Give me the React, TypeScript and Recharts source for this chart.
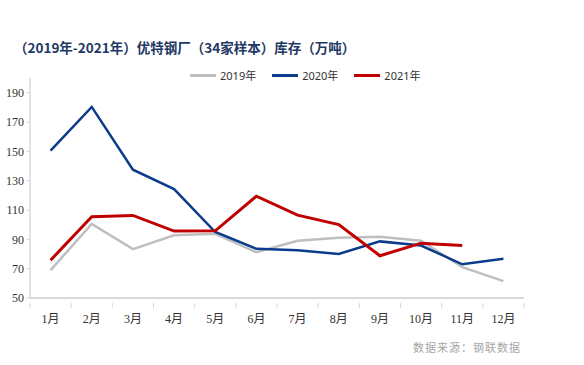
import { CartesianGrid, Legend, Line, LineChart, XAxis, YAxis } from 'recharts';

const months = ['1月', '2月', '3月', '4月', '5月', '6月', '7月', '8月', '9月', '10月', '11月', '12月'];
const inv2019 = [69, 100.5, 83.3, 92.8, 93.8, 81.2, 89, 91, 91.8, 89, 71, 61.5];
const inv2020 = [150.5, 180.3, 137.5, 124.3, 95, 83.5, 82.6, 80, 88.6, 85.8, 73, 76.7];
const inv2021 = [75.8, 105.4, 106.3, 95.6, 95.8, 119.4, 106.5, 100.1, 78.8, 87.4, 85.8, null];
const yTicks = [50, 70, 90, 110, 130, 150, 170, 190];

const chartData = months.map((m, i) => ({
  month: m,
  y2019: inv2019[i],
  y2020: inv2020[i],
  y2021: inv2021[i],
}));

const axisColor = '#d9d9d9';
const serif = '"Liberation Serif", "Noto Sans CJK SC", serif';

function MonthTick(props: any) {
  const { x, y, payload, index } = props;
  const half = payload?.offset ?? 494 / 24;
  return (
    <g>
      <line x1={x - half} y1={y - 3} x2={x - half} y2={y + 2} stroke={axisColor} />
      {index === months.length - 1 && (
        <line x1={x + half} y1={y - 3} x2={x + half} y2={y + 2} stroke={axisColor} />
      )}
      <text x={x} y={y + 17} textAnchor="middle" fontSize={12} fontFamily={serif} fill="#333">
        {payload.value}
      </text>
    </g>
  );
}

function LegendRow({ payload }: any) {
  return (
    <div style={{ display: 'flex', gap: 16, fontFamily: '"Noto Sans", "Noto Sans CJK SC", sans-serif', fontSize: 11, color: '#333' }}>
      {(payload || []).map((p: any) => (
        <div key={p.value} style={{ display: 'flex', alignItems: 'center' }}>
          <span style={{ display: 'inline-block', width: 26, height: 3, background: p.color, marginRight: 4 }} />
          <span>{p.value}</span>
        </div>
      ))}
    </div>
  );
}

export default function App() {
  return (
    <div style={{ position: 'absolute', left: 0, top: 0, width: 584, height: 365, background: '#fff' }}>
      <div
        style={{
          position: 'absolute',
          left: 14,
          top: 37,
          fontSize: 13.5,
          fontWeight: 'bold',
          color: '#1f3864',
          fontFamily: '"Noto Sans CJK SC", sans-serif',
          whiteSpace: 'nowrap',
        }}
      >
        （2019年-2021年）优特钢厂（34家样本）库存（万吨）
      </div>
      <LineChart width={584} height={365} data={chartData} margin={{ top: 62, right: 60, bottom: 37, left: 0 }}>
        <CartesianGrid vertical={false} horizontal={false} />
        <XAxis
          dataKey="month"
          scale="band"
          height={30}
          axisLine={{ stroke: axisColor, strokeWidth: 2 }}
          tickLine={false}
          tick={<MonthTick />}
          interval={0}
        />
        <YAxis
          domain={[50, 200]}
          ticks={yTicks}
          width={30}
          axisLine={{ stroke: axisColor, strokeWidth: 1.5 }}
          tickLine={{ stroke: axisColor }}
          tickSize={4}
          tickMargin={2}
          tick={{ fontSize: 12, fontFamily: serif, fill: '#333' }}
        />
        <Legend
          verticalAlign="top"
          content={<LegendRow />}
          wrapperStyle={{ position: 'absolute', top: 67, left: 190, width: 260 }}
        />
        <Line type="linear" dataKey="y2019" name="2019年" stroke="#bfbfbf" strokeWidth={2.5} dot={false} isAnimationActive={false} />
        <Line type="linear" dataKey="y2020" name="2020年" stroke="#0b3c8c" strokeWidth={2.5} dot={false} isAnimationActive={false} />
        <Line type="linear" dataKey="y2021" name="2021年" stroke="#c00000" strokeWidth={3} dot={false} isAnimationActive={false} />
      </LineChart>
      <div
        style={{
          position: 'absolute',
          left: 413,
          top: 339,
          fontSize: 11,
          color: '#a6a6a6',
          fontFamily: '"Noto Sans CJK SC", sans-serif',
          letterSpacing: 1,
        }}
      >
        数据来源：钢联数据
      </div>
    </div>
  );
}
